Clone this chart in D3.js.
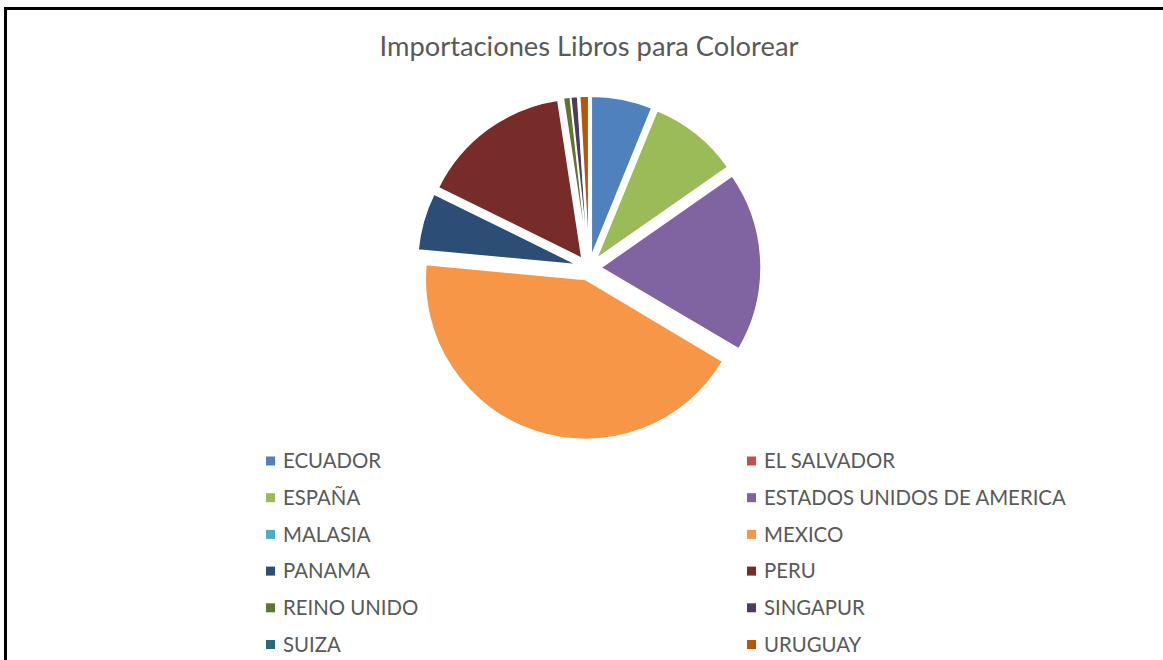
<!DOCTYPE html>
<html>
<head>
<meta charset="utf-8">
<script src="https://cdn.jsdelivr.net/npm/d3@7"></script>
<style>
  body { margin: 0; background: #fff; }
  text { font-family: Lato, "Open Sans", sans-serif; fill: #595959; }
</style>
</head>
<body>
<svg id="chart" width="1163" height="660"></svg>
<script>
// datos (porcentaje del total)
const countries = ["ECUADOR", "EL SALVADOR", "ESPAÑA", "ESTADOS UNIDOS DE AMERICA",
  "MALASIA", "MEXICO", "PANAMA", "PERU", "REINO UNIDO", "SINGAPUR", "SUIZA", "URUGUAY"];
const shares = [6.17, 0.02, 9.11, 18.19, 0.08, 42.92, 5.81, 15.31, 0.69, 0.69, 0.14, 0.89];
const colors = ["#4F81BD", "#C0504D", "#9BBB59", "#8064A2", "#4BACC6", "#F79646",
  "#2C4D75", "#772C2A", "#5F7530", "#4D3B62", "#276A7C", "#B65708"];
const title = "Importaciones Libros para Colorear";

const width = 1163, height = 660;
const cx = 589, cy = 268, radius = 160, explode = 12;

const svg = d3.select("#chart");

// marco del grafico
svg.append("rect")
  .attr("x", 5.5).attr("y", 8.5)
  .attr("width", 1200).attr("height", 700)
  .attr("fill", "none")
  .attr("stroke", "#000")
  .attr("stroke-width", 3);

// titulo, ajustado al ancho de la imagen
let t = svg.append("text")
  .attr("x", cx)
  .attr("y", 56)
  .attr("text-anchor", "middle")
  .style("font-size", "26px")
  .text(title);
let tw = t.node().getComputedTextLength();
t.style("font-size", (26 * 419 / tw) + "px");

const color = d3.scaleOrdinal().domain(countries).range(colors);

const pie = d3.pie().sort(null).value(d => d.value);
const arc = d3.arc().innerRadius(0).outerRadius(radius);

const data = countries.map((c, i) => ({ name: c, value: shares[i] }));

svg.append("g")
  .attr("transform", "translate(" + cx + "," + cy + ")")
  .selectAll("path")
  .data(pie(data))
  .join("path")
  .attr("d", arc)
  .attr("fill", d => color(d.data.name))
  .attr("stroke", "#fff")
  .attr("stroke-width", 1.5)
  .attr("stroke-linejoin", "round")
  .attr("transform", d => {
    let mid = (d.startAngle + d.endAngle) / 2;
    return "translate(" + (explode * Math.sin(mid)) + "," + (-explode * Math.cos(mid)) + ")";
  });

// leyenda en dos columnas
const colX = [266, 747];
const rowY = d3.scaleLinear().domain([0, 5]).range([461, 644.5]);

const legend = svg.append("g")
  .selectAll("g")
  .data(countries)
  .join("g")
  .attr("transform", (d, i) => "translate(" + colX[i % 2] + "," + rowY(Math.floor(i / 2)) + ")");

legend.append("rect")
  .attr("x", 0).attr("y", -4.5)
  .attr("width", 9).attr("height", 9)
  .attr("fill", d => color(d));

let labels = legend.append("text")
  .attr("x", 17)
  .attr("dy", "0.36em")
  .style("font-size", "20px")
  .text(d => d);

let lw = labels.filter(d => d == "ESTADOS UNIDOS DE AMERICA").node().getComputedTextLength();
labels.style("font-size", (20 * 302 / lw) + "px");
</script>
</body>
</html>
